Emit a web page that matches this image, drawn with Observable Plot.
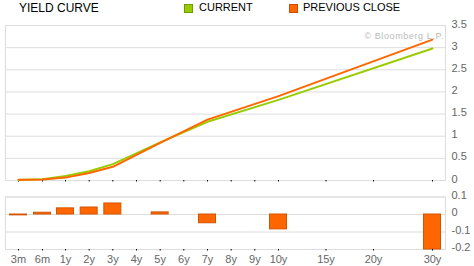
<!DOCTYPE html>
<html>
<head>
<meta charset="utf-8">
<script src="https://cdn.jsdelivr.net/npm/d3@7"></script>
<script src="https://cdn.jsdelivr.net/npm/@observablehq/plot@0.6"></script>
<style>
  html, body { margin: 0; padding: 0; background: #fff; }
  #wrap { position: relative; width: 474px; height: 266px; overflow: hidden; font-family: "Liberation Sans", Arial, sans-serif; }
  #wrap > div.plot { position: absolute; left: 0; }
  .title { position: absolute; left: 19px; top: 1px; font-size: 12px; line-height: 14px; color: #000; }
  .leg { position: absolute; top: 1px; font-size: 11px; line-height: 13px; color: #000; }
  .sw { position: absolute; top: 4px; width: 7px; height: 7px; border: 1px solid; }
  .wm { position: absolute; right: 30px; top: 31px; font-size: 9px; line-height: 10px; color: #bbb; letter-spacing: 0.6px; }
</style>
</head>
<body>
<div id="wrap">
  <div class="title">YIELD CURVE</div>
  <div class="sw" style="left:184px;background:#99cc00;border-color:#6f9a00"></div>
  <div class="leg" style="left:199px">CURRENT</div>
  <div class="sw" style="left:289px;background:#ff6600;border-color:#c94f00"></div>
  <div class="leg" style="left:303px">PREVIOUS CLOSE</div>
  <div id="upper" class="plot" style="top:0"></div>
  <div id="lower" class="plot" style="top:190px"></div>
  <div class="wm">© Bloomberg L.P.</div>
</div>
<script>
const tenorYears = [0.25, 0.5, 1, 2, 3, 5, 7, 10, 30];
const current   = [0.01, 0.03, 0.10, 0.21, 0.37, 0.86, 1.325, 1.82, 2.98];
const previous  = [0.015, 0.02, 0.065, 0.17, 0.31, 0.85, 1.375, 1.905, 3.18];
const change    = [-0.005, 0.01, 0.035, 0.04, 0.063, 0.012, -0.05, -0.085, -0.2];

const tickYears  = [0.25, 0.5, 1, 2, 3, 4, 5, 6, 7, 8, 9, 10, 15, 20, 30];
const tickLabels = ["3m", "6m", "1y", "2y", "3y", "4y", "5y", "6y", "7y", "8y", "9y", "10y", "15y", "20y", "30y"];
const yTicksTop  = [0, 0.5, 1, 1.5, 2, 2.5, 3, 3.5];
const yTicksBot  = [-0.2, -0.1, 0, 0.1];

const rows = tenorYears.map((t, i) => ({t, current: current[i], previous: previous[i], change: change[i]}));

const xScale = {
  type: "linear",
  domain: [0.25, 0.5, 1, 10, 20, 30],
  range: [18, 42, 65, 278, 373, 432]
};
const plotStyle = {fontFamily: "Liberation Sans, Arial, sans-serif", fontSize: "11px", color: "#666", background: "transparent", overflow: "visible"};
const labelOf = d => tickLabels[tickYears.indexOf(d)];

const upperChart = Plot.plot({
  width: 474, height: 190,
  marginTop: 25, marginBottom: 10, marginLeft: 5, marginRight: 29,
  style: plotStyle,
  x: xScale,
  y: {domain: [0, 3.5]},
  marks: [
    Plot.gridY(yTicksTop, {stroke: "#dddddd", strokeOpacity: 1}),
    Plot.frame({stroke: "#dddddd"}),
    Plot.axisX({ticks: tickYears, tickSize: 1.5, tickFormat: () => "", stroke: "#000", label: null}),
    Plot.axisY({anchor: "right", ticks: yTicksTop, tickSize: 0, tickPadding: 6, tickFormat: d => String(d), fill: "#666", dy: -1.5, label: null}),
    Plot.line(rows, {x: "t", y: "current", stroke: "#99cc00", strokeWidth: 2}),
    Plot.line(rows, {x: "t", y: "previous", stroke: "#ff6600", strokeWidth: 2})
  ]
});
document.getElementById("upper").appendChild(upperChart);

const lowerChart = Plot.plot({
  width: 474, height: 76,
  marginTop: 6.5, marginBottom: 17, marginLeft: 5, marginRight: 29,
  style: plotStyle,
  x: xScale,
  y: {domain: [-0.2, 0.1]},
  marks: [
    Plot.gridY(yTicksBot, {stroke: "#dddddd", strokeOpacity: 1}),
    Plot.frame({stroke: "#dddddd"}),
    Plot.rect(rows, {x1: "t", x2: "t", y1: 0, y2: "change", insetLeft: -8.5, insetRight: -8.5, fill: "#ff6600", stroke: "#d35400", strokeWidth: 1}),
    Plot.axisX({ticks: tickYears, tickSize: 1.5, tickPadding: 4, tickFormat: labelOf, stroke: "#000", fill: "#666", label: null}),
    Plot.axisY({anchor: "right", ticks: yTicksBot, tickSize: 0, tickPadding: 6, tickFormat: d => String(d), fill: "#666", dy: -2, label: null})
  ]
});
document.getElementById("lower").appendChild(lowerChart);
</script>
</body>
</html>
